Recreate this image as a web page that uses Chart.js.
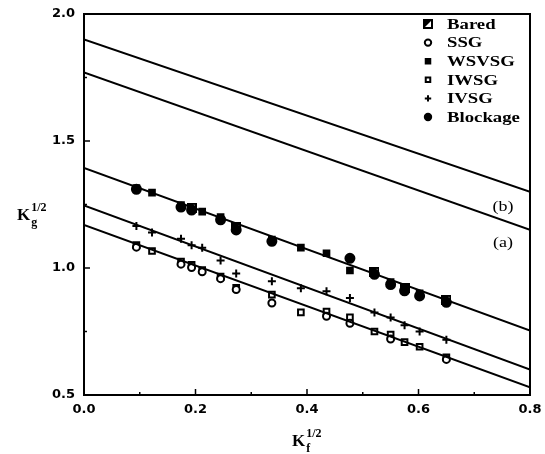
<!DOCTYPE html>
<html>
<head>
<meta charset="utf-8">
<script src="https://cdn.jsdelivr.net/npm/chart.js@4.4.0/dist/chart.umd.min.js"></script>
<style>
  html, body { margin: 0; padding: 0; background: #fff; }
</style>
</head>
<body>
<canvas id="myChart" width="545" height="454"></canvas>
<script>
// measured points, K_f^1/2 on x, K_g^1/2 on y
const wsvsgX = [0.094, 0.122, 0.174, 0.212, 0.245, 0.337, 0.389, 0.435, 0.477, 0.55, 0.602];
const wsvsgY = [1.315, 1.297, 1.248, 1.222, 1.200, 1.112, 1.080, 1.058, 0.990, 0.945, 0.900];

const blockX = [0.094, 0.174, 0.193, 0.245, 0.273, 0.337, 0.477, 0.521, 0.55, 0.575, 0.602, 0.65];
const blockY = [1.310, 1.240, 1.228, 1.190, 1.150, 1.105, 1.038, 0.975, 0.935, 0.910, 0.890, 0.865];

const baredX = [0.193, 0.273, 0.521, 0.575, 0.65];
const baredY = [1.238, 1.160, 0.985, 0.920, 0.875];

const ivsgX = [0.094, 0.122, 0.174, 0.193, 0.212, 0.245, 0.273, 0.337, 0.389, 0.435, 0.477, 0.521, 0.55, 0.575, 0.602, 0.65];
const ivsgY = [1.165, 1.140, 1.115, 1.090, 1.080, 1.030, 0.978, 0.948, 0.920, 0.908, 0.882, 0.825, 0.805, 0.775, 0.750, 0.718];

const iwsgX = [0.094, 0.122, 0.174, 0.193, 0.212, 0.245, 0.273, 0.337, 0.389, 0.435, 0.477, 0.521, 0.55, 0.575, 0.602, 0.65];
const iwsgY = [1.090, 1.067, 1.025, 1.012, 0.992, 0.966, 0.922, 0.895, 0.825, 0.828, 0.806, 0.750, 0.738, 0.708, 0.690, 0.648];

const ssgX = [0.094, 0.174, 0.193, 0.212, 0.245, 0.273, 0.337, 0.435, 0.477, 0.55, 0.65];
const ssgY = [1.082, 1.015, 1.002, 0.985, 0.958, 0.915, 0.862, 0.810, 0.782, 0.720, 0.640];

// straight lines, value at x = 0 and x = 0.8
const lineX = [0, 0.8];
const lineB = [1.90, 1.30];
const lineA = [1.77, 1.15];
const fitTop = [1.394, 0.754];
const fitMid = [1.246, 0.600];
const fitBot = [1.170, 0.530];

const xTicks = [0, 0.2, 0.4, 0.6, 0.8];
const xMinor = [0.1, 0.3, 0.5, 0.7];
const yTicks = [0.5, 1.0, 1.5, 2.0];
const yMinor = [0.75, 1.25, 1.75];

const legendNames = ['Bared', 'SSG', 'WSVSG', 'IWSG', 'IVSG', 'Blockage'];

const pts = (xs, ys) => xs.map((x, i) => ({ x: x, y: ys[i] }));

// half filled square for "Bared"
const baredIcon = document.createElement('canvas');
baredIcon.width = 10;
baredIcon.height = 10;
(() => {
    const c = baredIcon.getContext('2d');
    c.fillStyle = '#000';
    c.beginPath();
    c.moveTo(1, 1); c.lineTo(9, 1); c.lineTo(1, 9); c.closePath();
    c.fill();
    c.lineWidth = 2;
    c.strokeStyle = '#000';
    c.strokeRect(1, 1, 8, 8);
})();

const fitLine = (ys) => ({
    type: 'line',
    data: pts(lineX, ys),
    borderColor: '#000',
    borderWidth: 2,
    pointRadius: 0,
    showLine: true,
    fill: false
});

const marker = (label, xs, ys, style, filled, r, bw) => ({
    label: label,
    data: pts(xs, ys),
    pointStyle: style,
    pointRadius: r,
    pointBackgroundColor: filled ? '#000' : '#fff',
    pointBorderColor: '#000',
    pointBorderWidth: bw,
    showLine: false
});

const datasets = [
    fitLine(lineB),
    fitLine(lineA),
    fitLine(fitTop),
    fitLine(fitMid),
    fitLine(fitBot),
    marker('Bared', baredX, baredY, baredIcon, true, 4, 2),
    marker('SSG', ssgX, ssgY, 'circle', false, 3.5, 2),
    marker('WSVSG', wsvsgX, wsvsgY, 'rect', true, 4, 2),
    marker('IWSG', iwsgX, iwsgY, 'rect', false, 4, 2),
    marker('IVSG', ivsgX, ivsgY, 'cross', false, 4, 2),
    marker('Blockage', blockX, blockY, 'circle', true, 4.5, 2)
];

const serif = '"Liberation Serif", "Times New Roman", serif';

// text stretched wide like the scanned figure
const wideText = (ctx, txt, x, y, sx) => {
    ctx.save();
    ctx.translate(x, y);
    ctx.scale(sx, 1);
    ctx.fillText(txt, 0, 0);
    ctx.restore();
};

const drawK = (ctx, x, y, sub) => {
    ctx.fillStyle = '#000';
    ctx.textBaseline = 'alphabetic';
    ctx.textAlign = 'left';
    ctx.font = 'bold 17px ' + serif;
    ctx.fillText('K', x, y);
    const w = ctx.measureText('K').width;
    ctx.font = 'bold 12px ' + serif;
    ctx.fillText(sub, x + w + 1, y + 6);
    ctx.fillText('1/2', x + w + 1, y - 9);
};

const framePlugin = {
    id: 'frame',
    afterDraw(chart) {
        const ctx = chart.ctx;
        const a = chart.chartArea;
        const xs = chart.scales.x;
        const ys = chart.scales.y;
        ctx.save();
        ctx.strokeStyle = '#000';
        ctx.lineWidth = 2;
        ctx.strokeRect(a.left, a.top, a.right - a.left, a.bottom - a.top);

        // inward ticks
        ctx.lineWidth = 1.5;
        ctx.beginPath();
        xTicks.forEach(v => { const p = xs.getPixelForValue(v); ctx.moveTo(p, a.bottom); ctx.lineTo(p, a.bottom - 6); });
        xMinor.forEach(v => { const p = xs.getPixelForValue(v); ctx.moveTo(p, a.bottom); ctx.lineTo(p, a.bottom - 3); });
        yTicks.forEach(v => { const p = ys.getPixelForValue(v); ctx.moveTo(a.left, p); ctx.lineTo(a.left + 6, p); });
        yMinor.forEach(v => { const p = ys.getPixelForValue(v); ctx.moveTo(a.left, p); ctx.lineTo(a.left + 3, p); });
        ctx.stroke();

        // legend
        const items = chart.data.datasets.filter(d => legendNames.includes(d.label));
        items.forEach((d, i) => {
            const y = 24 + i * 18.6;
            ctx.fillStyle = d.pointBackgroundColor;
            ctx.strokeStyle = '#000';
            ctx.lineWidth = d.pointBorderWidth;
            Chart.helpers.drawPoint(ctx, {
                pointStyle: d.pointStyle,
                radius: 3.2,
                borderWidth: d.pointBorderWidth,
                rotation: 0
            }, 428, y);
            ctx.fillStyle = '#000';
            ctx.font = 'bold 15px ' + serif;
            ctx.textAlign = 'left';
            ctx.textBaseline = 'middle';
            wideText(ctx, d.label, 447, y + 1, 1.25);
        });

        // curve labels
        ctx.fillStyle = '#000';
        ctx.font = '15px ' + serif;
        ctx.textAlign = 'center';
        ctx.textBaseline = 'middle';
        wideText(ctx, '(b)', 503, 207, 1.2);
        wideText(ctx, '(a)', 503, 243, 1.2);

        // axis titles
        drawK(ctx, 17, 220, 'g');
        drawK(ctx, 292, 446, 'f');
        ctx.restore();
    }
};

const tickFont = { family: '"DejaVu Sans", Arial, sans-serif', size: 13, weight: 'bold' };

new Chart(document.getElementById('myChart'), {
    type: 'scatter',
    data: { datasets: datasets },
    options: {
        responsive: false,
        animation: false,
        devicePixelRatio: 1,
        layout: { padding: { top: 14, right: 15, left: 0, bottom: 0 } },
        plugins: {
            legend: { display: false },
            tooltip: { enabled: false }
        },
        scales: {
            x: {
                type: 'linear',
                min: 0,
                max: 0.8,
                afterBuildTicks: s => { s.ticks = xTicks.map(v => ({ value: v })); },
                ticks: {
                    color: '#000',
                    font: tickFont,
                    padding: 7,
                    maxRotation: 0,
                    callback: v => v.toFixed(1)
                },
                grid: { display: false, drawTicks: false },
                border: { display: true, color: '#000', width: 2 },
                afterFit: s => { s.height = 59; s.paddingLeft = 0; s.paddingRight = 0; }
            },
            y: {
                type: 'linear',
                min: 0.5,
                max: 2.0,
                afterBuildTicks: s => { s.ticks = yTicks.map(v => ({ value: v })); },
                ticks: {
                    color: '#000',
                    font: tickFont,
                    padding: 9,
                    callback: v => v.toFixed(1)
                },
                grid: { display: false, drawTicks: false },
                border: { display: true, color: '#000', width: 2 },
                afterFit: s => { s.width = 84; s.paddingTop = 0; s.paddingBottom = 0; }
            }
        }
    },
    plugins: [framePlugin]
});
</script>
</body>
</html>
